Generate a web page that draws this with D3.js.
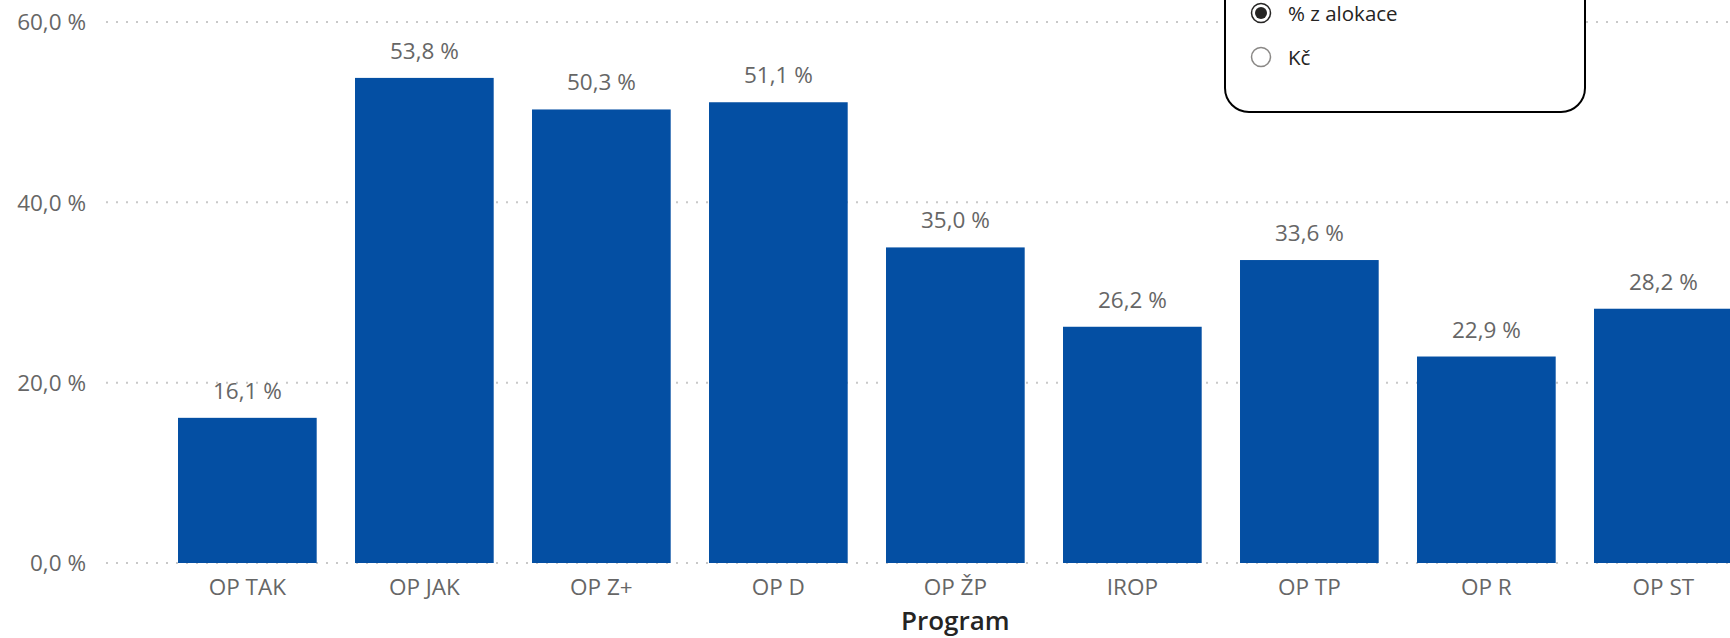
<!DOCTYPE html>
<html lang="cs">
  <head>
    <meta charset="utf-8" />
    <title>Program - % z alokace</title>
    <script type="text/javascript" src="https://d3js.org/d3.v7.min.js" charset="utf-8"></script>
    <style type="text/css">
      body { margin: 0; background: #fff; overflow: hidden; }
      text { font-family: "Open Sans", "Noto Sans", sans-serif; }
      .axis text { fill: #666666; font-size: 22.5px; }
      .value-label { fill: #666666; font-size: 22.5px; }
      .axis-title { fill: #252423; font-size: 26px; font-weight: 600; }
      .legend text { fill: #252423; font-size: 20.5px; }
    </style>
  </head>
  <body>
    <script type="text/javascript">
      // data
      var programs = ["OP TAK", "OP JAK", "OP Z+", "OP D", "OP ŽP", "IROP", "OP TP", "OP R", "OP ST"];
      var values = [16.1, 53.8, 50.3, 51.1, 35.0, 26.2, 33.6, 22.9, 28.2];
      var yTicks = [0, 20, 40, 60];
      var legendItems = ["% z alokace", "Kč"];
      var selectedItem = "% z alokace";

      var width = 1730, height = 638;
      var barColour = "#044fa3";

      var data = programs.map((p, i) => ({ program: p, value: values[i] }));

      var svg = d3.select("body").append("svg")
        .attr("width", width)
        .attr("height", height);

      // scales
      var x = d3.scaleBand()
        .domain(programs)
        .range([158.85, 158.85 + 9 * 177])
        .paddingInner(0.2165)
        .paddingOuter(0.10825);

      var y = d3.scaleLinear()
        .domain([0, 60])
        .range([563, 22]);

      var fmt = v => d3.format(".1f")(v).replace(".", ",") + " %";

      // dotted gridlines
      svg.append("g")
        .selectAll("line")
        .data(yTicks)
        .join("line")
        .attr("x1", 106)
        .attr("x2", width)
        .attr("y1", d => y(d))
        .attr("y2", d => y(d))
        .style("stroke", "#c8c8c8")
        .style("stroke-width", 2)
        .style("stroke-dasharray", "2,8");

      // y axis (labels only)
      var gY = svg.append("g")
        .attr("class", "axis axis--y")
        .attr("transform", "translate(86,0)")
        .call(d3.axisLeft(y).tickValues(yTicks).tickFormat(fmt).tickSize(0).tickPadding(0))
        .call(g => g.select(".domain").remove());
      gY.selectAll("text").attr("dy", "0.35em");

      // bars
      svg.append("g")
        .selectAll("rect")
        .data(data)
        .join("rect")
        .attr("x", d => x(d.program))
        .attr("y", d => y(d.value))
        .attr("width", x.bandwidth())
        .attr("height", d => y(0) - y(d.value))
        .attr("fill", barColour);

      // value labels
      svg.append("g")
        .selectAll("text")
        .data(data)
        .join("text")
        .attr("class", "value-label")
        .attr("x", d => x(d.program) + x.bandwidth() / 2)
        .attr("y", d => y(d.value) - 19)
        .attr("text-anchor", "middle")
        .text(d => fmt(d.value));

      // x axis
      var gX = svg.append("g")
        .attr("class", "axis axis--x")
        .attr("transform", `translate(0,${y(0)})`)
        .call(d3.axisBottom(x).tickSize(0).tickPadding(0))
        .call(g => g.select(".domain").remove());
      gX.selectAll("text").attr("dy", null).attr("y", 32);

      svg.append("text")
        .attr("class", "axis-title")
        .attr("x", (x.range()[0] + x.range()[1]) / 2)
        .attr("y", 630)
        .attr("text-anchor", "middle")
        .text("Program");

      // legend / slicer box
      var legend = svg.append("g").attr("class", "legend");
      legend.append("rect")
        .attr("x", 1225)
        .attr("y", -40)
        .attr("width", 360)
        .attr("height", 152)
        .attr("rx", 24)
        .attr("fill", "#fff")
        .attr("stroke", "#000")
        .attr("stroke-width", 2);

      var item = legend.selectAll("g.item")
        .data(legendItems)
        .join("g")
        .attr("class", "item")
        .attr("transform", (d, i) => `translate(1261,${13 + i * 44})`);

      item.append("circle")
        .attr("r", 9.5)
        .attr("fill", "#fff")
        .attr("stroke", d => d === selectedItem ? "#252423" : "#8a8886")
        .attr("stroke-width", 1.5);

      item.filter(d => d === selectedItem)
        .append("circle")
        .attr("r", 6)
        .attr("fill", "#252423");

      item.append("text")
        .attr("x", 27)
        .attr("y", 1)
        .attr("dy", "0.35em")
        .text(d => d);
    </script>
  </body>
</html>
